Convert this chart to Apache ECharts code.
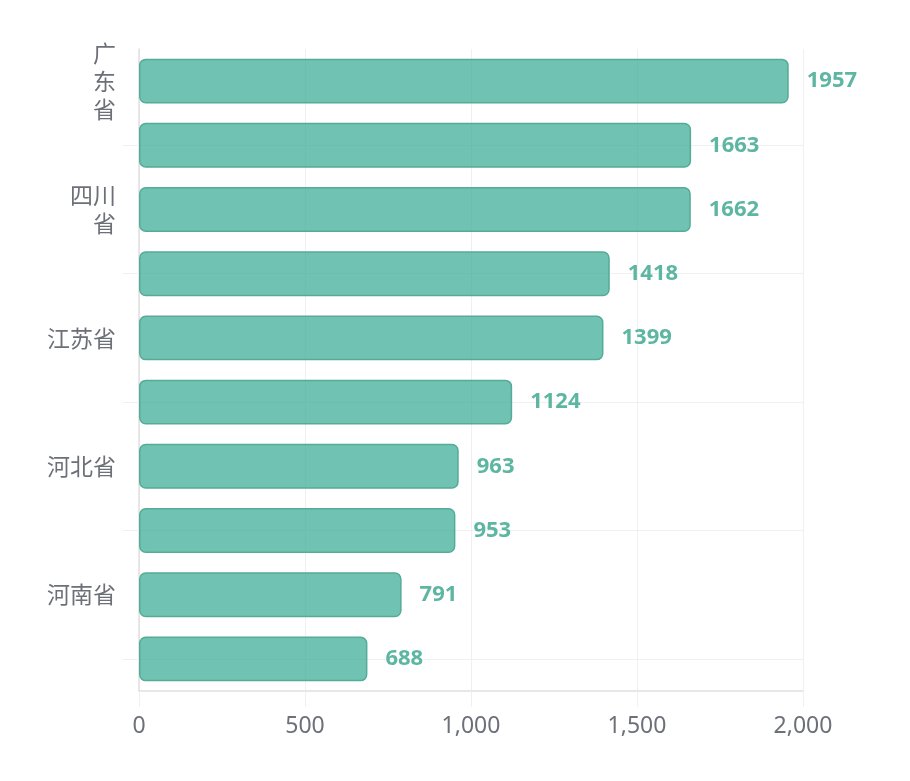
<!DOCTYPE html>
<html>
<head>
<meta charset="utf-8">
<script src="https://cdn.jsdelivr.net/npm/echarts@6/dist/echarts.min.js"></script>
<style>
  html, body { margin: 0; padding: 0; background: #fff; }
  #main { width: 910px; height: 781px; }
</style>
</head>
<body>
<div id="main"></div>
<script>
var provinces = ['广东省', '山东省', '四川省', '浙江省', '江苏省', '湖南省', '河北省', '湖北省', '河南省', '安徽省'];
var counts = [1957, 1663, 1662, 1418, 1399, 1124, 963, 953, 791, 688];
var xTicks = [0, 500, 1000, 1500, 2000];

// how the original wraps the long labels
var labelBreaks = { '广东省': '广\n东\n省', '四川省': '四川\n省' };

var oddRow = function (i) { return i % 2 === 1; };

var myChart = echarts.init(document.getElementById('main'));
var option = {
  grid: { left: 139, right: 107, top: 49, bottom: 90 },
  xAxis: {
    type: 'value',
    min: xTicks[0],
    max: xTicks[xTicks.length - 1],
    interval: 500,
    axisLine: { show: true, lineStyle: { color: '#e0e0e0', width: 1.5 } },
    axisTick: { show: true, length: 16, lineStyle: { color: '#f0f0f0' } },
    splitLine: { show: true, lineStyle: { color: '#f0f0f0' } },
    axisLabel: {
      color: '#6e7079',
      fontSize: 23,
      margin: 24,
      fontFamily: 'Noto Sans, sans-serif',
      formatter: function (v) { return v.toLocaleString('en-US'); }
    }
  },
  yAxis: {
    type: 'category',
    inverse: true,
    data: provinces,
    axisLine: { show: true, lineStyle: { color: '#e0e0e0', width: 1.5 } },
    axisTick: { show: true, alignWithLabel: true, interval: oddRow, length: 16, lineStyle: { color: '#f0f0f0' } },
    splitLine: { show: true, alignWithLabel: true, interval: oddRow, lineStyle: { color: '#f0f0f0' } },
    axisLabel: {
      color: '#6e7079',
      fontSize: 23,
      margin: 23,
      lineHeight: 28,
      fontFamily: 'Noto Sans CJK SC',
      interval: 1,
      formatter: function (v) { return labelBreaks[v] || v; }
    }
  },
  series: [{
    type: 'bar',
    data: counts,
    barWidth: '70%',
    itemStyle: {
      color: 'rgba(64, 175, 152, 0.75)',
      borderColor: '#55ab97',
      borderWidth: 1.5,
      borderRadius: 6
    },
    label: {
      show: true,
      position: 'right',
      distance: 18,
      color: '#5cb6a1',
      fontSize: 22,
      fontWeight: 'bold',
      fontFamily: 'Noto Sans, sans-serif'
    }
  }]
};
myChart.setOption(option);
</script>
</body>
</html>
